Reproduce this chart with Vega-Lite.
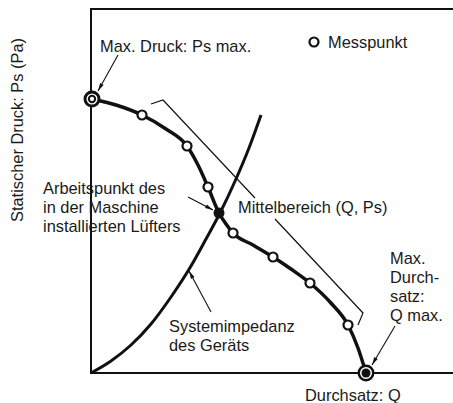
{
  "$schema": "https://vega.github.io/schema/vega-lite/v6.json",
  "width": 453,
  "height": 403,
  "padding": 0,
  "autosize": {"type": "none"},
  "background": "white",
  "config": {"view": {"stroke": null}},
  "datasets": {
    "box": [
      {"i": 0, "q": 370, "p": 364},
      {"i": 1, "q": 0, "p": 364},
      {"i": 2, "q": 0, "p": 0},
      {"i": 3, "q": 370, "p": 0}
    ],
    "imp": [
      {"q": 0, "p": 0}, {"q": 20, "p": 12}, {"q": 40, "p": 28}, {"q": 60, "p": 49},
      {"q": 80, "p": 76}, {"q": 100, "p": 107}, {"q": 115, "p": 134}, {"q": 129, "p": 160},
      {"q": 145, "p": 194}, {"q": 158, "p": 225}, {"q": 170, "p": 258}
    ],
    "fan": [
      {"q": 1, "p": 274}, {"q": 25, "p": 268}, {"q": 51, "p": 258}, {"q": 75, "p": 244},
      {"q": 96, "p": 227}, {"q": 107, "p": 208}, {"q": 117, "p": 186}, {"q": 128, "p": 160},
      {"q": 135, "p": 149}, {"q": 142, "p": 140}, {"q": 162, "p": 128}, {"q": 182, "p": 116},
      {"q": 200, "p": 104}, {"q": 219, "p": 90}, {"q": 239, "p": 71}, {"q": 257, "p": 48},
      {"q": 267, "p": 25}, {"q": 275, "p": 0}
    ],
    "bracket": [
      {"seg": "a", "i": 0, "q": 60, "p": 269},
      {"seg": "a", "i": 1, "q": 72, "p": 273},
      {"seg": "a", "i": 2, "q": 164, "p": 175},
      {"seg": "b", "i": 0, "q": 184, "p": 154},
      {"seg": "b", "i": 1, "q": 272, "p": 60},
      {"seg": "b", "i": 2, "q": 267, "p": 48}
    ],
    "arrows": [
      {"seg": "ps", "q": 27, "p": 318}, {"seg": "ps", "q": 7, "p": 282},
      {"seg": "ap", "q": 97, "p": 176}, {"seg": "ap", "q": 122, "p": 163},
      {"seg": "si", "q": 120, "p": 61}, {"seg": "si", "q": 98, "p": 102},
      {"seg": "qm", "q": 304, "p": 47}, {"seg": "qm", "q": 281, "p": 8}
    ],
    "heads": [
      {"q": 7, "p": 282, "ang": 209},
      {"q": 122, "p": 163, "ang": 118},
      {"q": 98, "p": 102, "ang": 332},
      {"q": 281, "p": 8, "ang": 210}
    ],
    "meas": [
      {"q": 51, "p": 258}, {"q": 96, "p": 227}, {"q": 117, "p": 186}, {"q": 142, "p": 140},
      {"q": 182, "p": 116}, {"q": 219, "p": 90}, {"q": 257, "p": 48}, {"q": 223, "p": 331}
    ],
    "psmax": [{"q": 1, "p": 274}],
    "qmax": [{"q": 275, "p": 0}],
    "op": [{"q": 128, "p": 160}],
    "labels": [
      {"q": 9, "p": 321, "t": ["Max. Druck: Ps max."]},
      {"q": 237, "p": 325, "t": ["Messpunkt"]},
      {"q": -48, "p": 178.6, "t": ["Arbeitspunkt des", "in der Maschine", "installierten Lüfters"]},
      {"q": 147, "p": 159.6, "t": ["Mittelbereich (Q, Ps)"]},
      {"q": 299, "p": 109.5, "t": ["Max.", "Durch-", "satz:", "Q max."]},
      {"q": 78, "p": 41, "t": ["Systemimpedanz", "des Geräts"]},
      {"q": 214, "p": -28, "t": ["Durchsatz: Q"]}
    ],
    "ytitle": [{"q": -68.5, "p": 243, "t": "Statischer Druck: Ps (Pa)"}]
  },
  "encoding": {
    "x": {"field": "q", "type": "quantitative", "scale": {"domain": [-91, 362], "nice": false, "zero": false}, "axis": null},
    "y": {"field": "p", "type": "quantitative", "scale": {"domain": [-30, 373], "nice": false, "zero": false}, "axis": null}
  },
  "layer": [
    {"data": {"name": "box"}, "mark": {"type": "line", "color": "#111", "strokeWidth": 2}, "encoding": {"order": {"field": "i", "type": "quantitative"}}},
    {"data": {"name": "imp"}, "mark": {"type": "line", "color": "#111", "strokeWidth": 3, "interpolate": "monotone"}, "encoding": {}},
    {"data": {"name": "bracket"}, "mark": {"type": "line", "color": "#111", "strokeWidth": 1.2}, "encoding": {"detail": {"field": "seg"}, "order": {"field": "i", "type": "quantitative"}}},
    {"data": {"name": "fan"}, "mark": {"type": "line", "color": "#111", "strokeWidth": 3.5, "interpolate": "monotone"}, "encoding": {}},
    {"data": {"name": "arrows"}, "mark": {"type": "line", "color": "#111", "strokeWidth": 1.1}, "encoding": {"detail": {"field": "seg"}}},
    {"data": {"name": "heads"}, "mark": {"type": "point", "shape": "M0,0L-0.5,2L0.5,2Z", "filled": true, "color": "#111", "opacity": 1, "size": 64}, "encoding": {"angle": {"field": "ang", "type": "quantitative", "scale": null}}},
    {"data": {"name": "meas"}, "mark": {"type": "circle", "fill": "white", "stroke": "#111", "strokeWidth": 2.2, "size": 81, "opacity": 1, "fillOpacity": 1}},
    {"data": {"name": "psmax"}, "mark": {"type": "circle", "fill": "white", "stroke": "#111", "strokeWidth": 3, "size": 196, "opacity": 1, "fillOpacity": 1}},
    {"data": {"name": "psmax"}, "mark": {"type": "circle", "fill": "white", "stroke": "#111", "strokeWidth": 2, "size": 40, "opacity": 1, "fillOpacity": 1}},
    {"data": {"name": "qmax"}, "mark": {"type": "circle", "fill": "white", "stroke": "#111", "strokeWidth": 2.5, "size": 210, "opacity": 1, "fillOpacity": 1}},
    {"data": {"name": "qmax"}, "mark": {"type": "circle", "fill": "#111", "size": 81, "opacity": 1}},
    {"data": {"name": "op"}, "mark": {"type": "circle", "fill": "#111", "size": 121, "opacity": 1}},
    {"data": {"name": "labels"}, "mark": {"type": "text", "align": "left", "baseline": "alphabetic", "font": "Liberation Sans", "fontSize": 16.4, "lineHeight": 19, "color": "#1a1a1a"}, "encoding": {"text": {"field": "t"}}},
    {"data": {"name": "ytitle"}, "mark": {"type": "text", "align": "center", "baseline": "alphabetic", "angle": 270, "font": "Liberation Sans", "fontSize": 16.4, "color": "#1a1a1a"}, "encoding": {"text": {"field": "t"}}}
  ]
}
